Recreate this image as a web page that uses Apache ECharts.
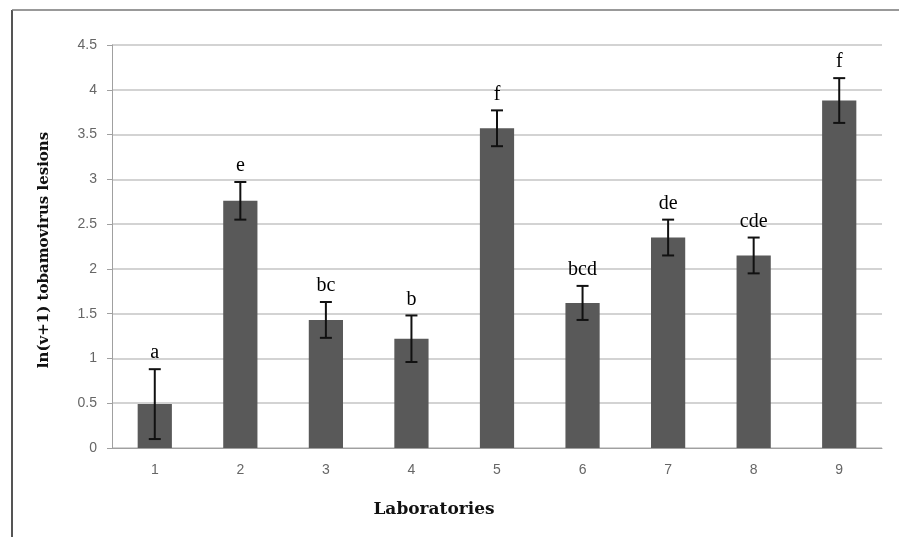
<!DOCTYPE html>
<html><head><meta charset="utf-8">
<script src="https://cdn.jsdelivr.net/npm/echarts@6/dist/echarts.min.js"></script>
<style>html,body{margin:0;padding:0;background:#fff}#c{width:899px;height:537px}</style>
</head><body><div id="c"></div>
<script>
const categories = ['1','2','3','4','5','6','7','8','9'];
const means = [0.49, 2.76, 1.43, 1.22, 3.57, 1.62, 2.35, 2.15, 3.88];
const errors = [0.39, 0.21, 0.20, 0.26, 0.20, 0.19, 0.20, 0.20, 0.25];
const letters = ['a','e','bc','b','f','bcd','de','cde','f'];
const yTicks = [0, 0.5, 1, 1.5, 2, 2.5, 3, 3.5, 4, 4.5];

const chart = echarts.init(document.getElementById('c'));
const errData = means.map((m, i) => [i, m - errors[i], m + errors[i], letters[i]]);
chart.setOption({
  animation: false,
  grid: {left: 112, right: 17, top: 45, bottom: 89},
  xAxis: {
    type: 'category', data: categories,
    axisLine: {lineStyle: {color: '#a0a0a0', width: 1}},
    axisTick: {show: false},
    axisLabel: {color: '#666', fontFamily: 'Liberation Sans', fontSize: 14, margin: 15}
  },
  yAxis: {
    type: 'value', min: 0, max: 4.5, interval: 0.5,
    axisLine: {show: true, lineStyle: {color: '#a0a0a0'}},
    axisTick: {show: true, length: 5, lineStyle: {color: '#a0a0a0'}},
    axisLabel: {color: '#666', fontFamily: 'Liberation Sans', fontSize: 14, margin: 15,
      formatter: v => yTicks.includes(v) ? String(v) : ''},
    splitLine: {lineStyle: {color: '#c4c4c4', width: 1.5}}
  },
  series: [
    {type: 'bar', data: means, barWidth: '40%', itemStyle: {color: '#595959'}, z: 2},
    {type: 'custom', data: errData, z: 5,
      renderItem: function (params, api) {
        const x = api.value(0);
        const lo = api.coord([x, api.value(1)]);
        const hi = api.coord([x, api.value(2)]);
        const cap = 6;
        const st = {stroke: '#111', lineWidth: 2};
        return {type: 'group', children: [
          {type: 'line', shape: {x1: hi[0], y1: hi[1], x2: lo[0], y2: lo[1]}, style: st},
          {type: 'line', shape: {x1: hi[0]-cap, y1: hi[1], x2: hi[0]+cap, y2: hi[1]}, style: st},
          {type: 'line', shape: {x1: lo[0]-cap, y1: lo[1], x2: lo[0]+cap, y2: lo[1]}, style: st},
          {type: 'text', style: {text: letters[params.dataIndex], x: hi[0], y: hi[1] - 6,
            textAlign: 'center', textVerticalAlign: 'bottom',
            font: '20px "Liberation Serif"', fill: '#000'}}
        ]};
      }
    }
  ],
  graphic: [
    {type: 'line', shape: {x1: 12, y1: 10, x2: 12, y2: 537}, style: {stroke: '#555', lineWidth: 2}},
    {type: 'line', shape: {x1: 12, y1: 10, x2: 899, y2: 10}, style: {stroke: '#777', lineWidth: 1.5}},
    {type: 'text', x: 434, y: 510,
      style: {text: 'Laboratories', font: 'bold 17px "DejaVu Serif"', fill: '#111',
        textAlign: 'center', textVerticalAlign: 'middle'}},
    {type: 'text', x: 44, y: 250, rotation: Math.PI/2,
      style: {text: 'ln(v+1) tobamovirus lesions', font: 'bold 15px "DejaVu Serif"', fill: '#111',
        textAlign: 'center', textVerticalAlign: 'middle'}}
  ]
});
</script></body></html>
